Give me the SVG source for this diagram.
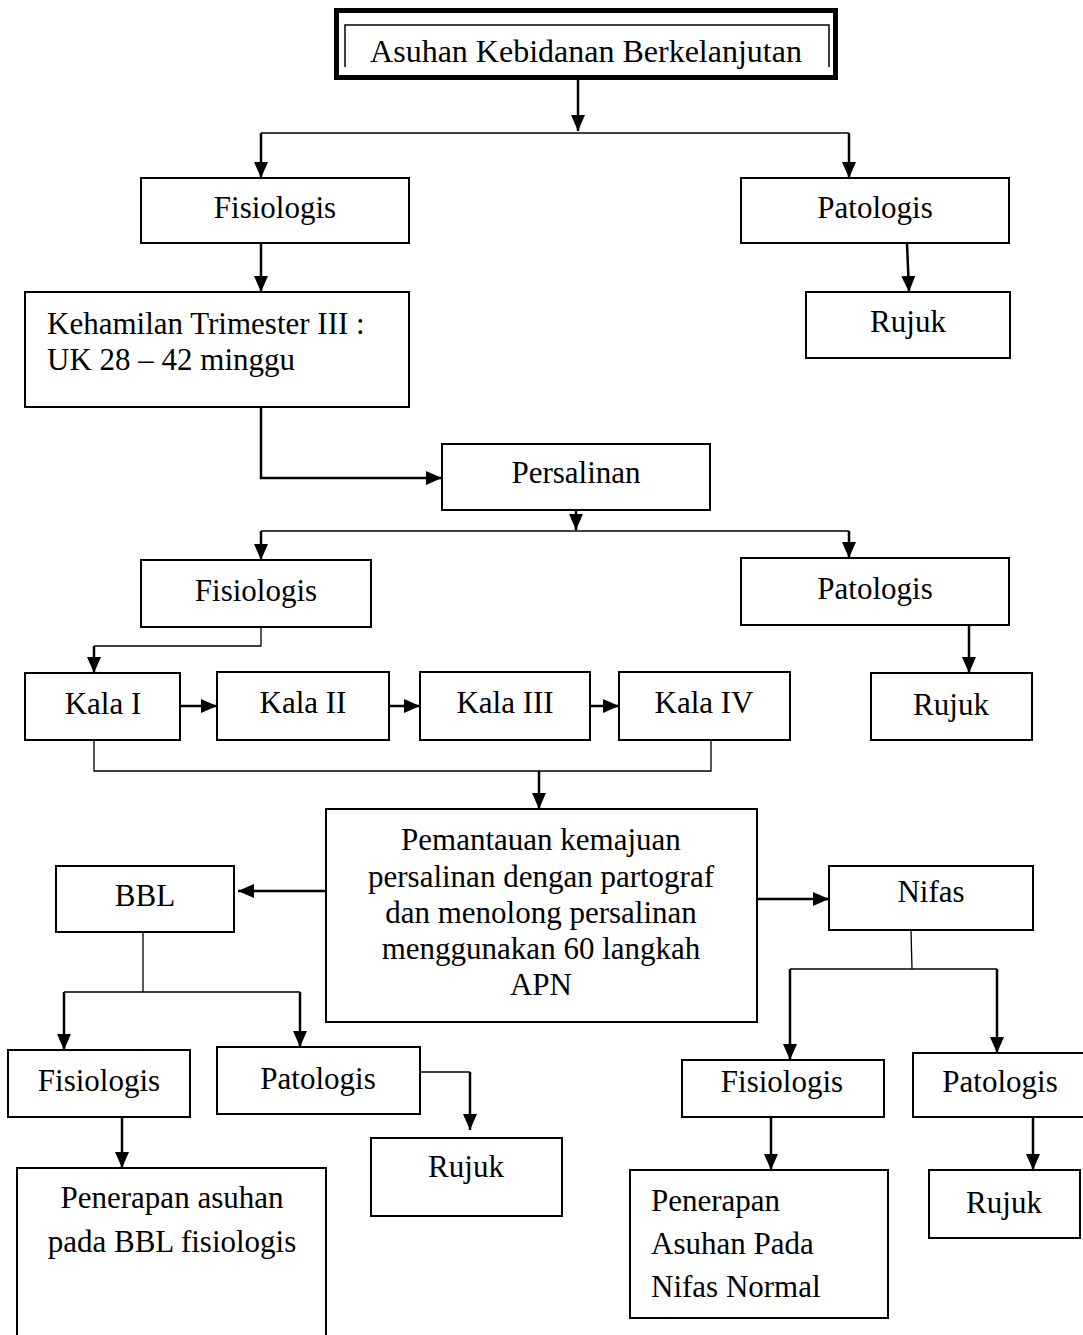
<svg xmlns="http://www.w3.org/2000/svg" width="1083" height="1335" viewBox="0 0 1083 1335">
<style>
.box{fill:#fff;stroke:#000;stroke-width:2}
.t{font-family:"Liberation Serif","Times New Roman",serif;font-size:31px;fill:#000}
.c{text-anchor:middle}
.ln{fill:none;stroke:#000;stroke-width:2.5}
.thin{fill:none;stroke:#000;stroke-width:1.3}
</style>
<defs>
<marker id="ah" markerUnits="userSpaceOnUse" viewBox="0 0 16 14" markerWidth="16" markerHeight="14" refX="16" refY="7" orient="auto">
<path d="M0,0 L16,7 L0,14 z" fill="#000"/>
</marker>
</defs>
<rect width="1083" height="1335" fill="#fff"/>

<g id="connectors">
<line class="ln" x1="578" y1="80" x2="578" y2="131" marker-end="url(#ah)"/>
<polyline class="thin" points="261,133 849,133"/>
<line class="ln" x1="261" y1="133" x2="261" y2="178" marker-end="url(#ah)"/>
<line class="ln" x1="849" y1="133" x2="849" y2="178" marker-end="url(#ah)"/>
<line class="ln" x1="261" y1="243" x2="261" y2="292" marker-end="url(#ah)"/>
<line class="ln" x1="907" y1="243" x2="909" y2="292" marker-end="url(#ah)"/>
<polyline class="ln" points="261,407 261,478 442,478" marker-end="url(#ah)"/>
<line class="ln" x1="576" y1="510" x2="576" y2="530" marker-end="url(#ah)"/>
<polyline class="thin" points="261,531 849,531"/>
<line class="ln" x1="261" y1="531" x2="261" y2="560" marker-end="url(#ah)"/>
<line class="ln" x1="849" y1="531" x2="849" y2="558" marker-end="url(#ah)"/>
<polyline class="thin" points="261,627 261,646 94,646"/>
<line class="ln" x1="94" y1="646" x2="94" y2="673" marker-end="url(#ah)"/>
<line class="ln" x1="969" y1="625" x2="969" y2="673" marker-end="url(#ah)"/>
<line class="ln" x1="180" y1="706" x2="217" y2="706" marker-end="url(#ah)"/>
<line class="ln" x1="389" y1="706" x2="420" y2="706" marker-end="url(#ah)"/>
<line class="ln" x1="590" y1="706" x2="619" y2="706" marker-end="url(#ah)"/>
<polyline class="thin" points="94,740 94,771 711,771 711,740"/>
<line class="ln" x1="539" y1="771" x2="539" y2="809" marker-end="url(#ah)"/>
<line class="ln" x1="326" y1="891" x2="238" y2="891" marker-end="url(#ah)"/>
<line class="ln" x1="757" y1="899" x2="829" y2="899" marker-end="url(#ah)"/>
<polyline class="thin" points="143,932 143,992"/>
<polyline class="thin" points="64,992 300,992"/>
<line class="ln" x1="64" y1="992" x2="64" y2="1050" marker-end="url(#ah)"/>
<line class="ln" x1="300" y1="992" x2="300" y2="1047" marker-end="url(#ah)"/>
<line class="ln" x1="122" y1="1117" x2="122" y2="1168" marker-end="url(#ah)"/>
<polyline class="thin" points="420,1072 470,1072"/>
<line class="ln" x1="470" y1="1072" x2="470" y2="1130" marker-end="url(#ah)"/>
<polyline class="thin" points="911,930 912,969"/>
<polyline class="thin" points="790,969 997,969"/>
<line class="ln" x1="790" y1="969" x2="790" y2="1060" marker-end="url(#ah)"/>
<line class="ln" x1="997" y1="969" x2="997" y2="1053" marker-end="url(#ah)"/>
<line class="ln" x1="771" y1="1117" x2="771" y2="1170" marker-end="url(#ah)"/>
<line class="ln" x1="1033" y1="1117" x2="1033" y2="1170" marker-end="url(#ah)"/>
</g>

<g id="n-title">
<rect x="336.5" y="10.5" width="499" height="67" fill="#fff" stroke="#000" stroke-width="5"/>
<polyline points="345,67 345,25 829,25 829,67" fill="none" stroke="#000" stroke-width="1.5"/>
<text class="t c" x="586" y="62" style="font-size:32px">Asuhan Kebidanan Berkelanjutan</text>
</g>
<g id="n-fis1"><rect class="box" x="141" y="178" width="268" height="65"/><text class="t c" x="275" y="218">Fisiologis</text></g>
<g id="n-pat1"><rect class="box" x="741" y="178" width="268" height="65"/><text class="t c" x="875" y="218">Patologis</text></g>
<g id="n-hamil"><rect class="box" x="25" y="292" width="384" height="115"/><text class="t" x="47" y="334">Kehamilan Trimester III :</text><text class="t" x="47" y="370">UK 28 – 42 minggu</text></g>
<g id="n-rujuk1"><rect class="box" x="806" y="292" width="204" height="66"/><text class="t c" x="908" y="332">Rujuk</text></g>
<g id="n-persalinan"><rect class="box" x="442" y="444" width="268" height="66"/><text class="t c" x="576" y="483">Persalinan</text></g>
<g id="n-fis2"><rect class="box" x="141" y="560" width="230" height="67"/><text class="t c" x="256" y="601">Fisiologis</text></g>
<g id="n-pat2"><rect class="box" x="741" y="558" width="268" height="67"/><text class="t c" x="875" y="599">Patologis</text></g>
<g id="n-kala1"><rect class="box" x="25" y="673" width="155" height="67"/><text class="t c" x="103" y="714">Kala I</text></g>
<g id="n-kala2"><rect class="box" x="217" y="672" width="172" height="68"/><text class="t c" x="303" y="713">Kala II</text></g>
<g id="n-kala3"><rect class="box" x="420" y="672" width="170" height="68"/><text class="t c" x="505" y="713">Kala III</text></g>
<g id="n-kala4"><rect class="box" x="619" y="672" width="171" height="68"/><text class="t c" x="704" y="713">Kala IV</text></g>
<g id="n-rujuk2"><rect class="box" x="871" y="673" width="161" height="67"/><text class="t c" x="951" y="715">Rujuk</text></g>
<g id="n-pemantauan"><rect class="box" x="326" y="809" width="431" height="213"/>
<text class="t c" x="541" y="850">Pemantauan kemajuan</text>
<text class="t c" x="541" y="887">persalinan dengan partograf</text>
<text class="t c" x="541" y="923">dan menolong persalinan</text>
<text class="t c" x="541" y="959">menggunakan 60 langkah</text>
<text class="t c" x="541" y="995">APN</text></g>
<g id="n-bbl"><rect class="box" x="56" y="866" width="178" height="66"/><text class="t c" x="145" y="906">BBL</text></g>
<g id="n-nifas"><rect class="box" x="829" y="866" width="204" height="64"/><text class="t c" x="931" y="902">Nifas</text></g>
<g id="n-fis3"><rect class="box" x="8" y="1050" width="182" height="67"/><text class="t c" x="99" y="1091">Fisiologis</text></g>
<g id="n-pat3"><rect class="box" x="217" y="1047" width="203" height="67"/><text class="t c" x="318" y="1089">Patologis</text></g>
<g id="n-rujuk3"><rect class="box" x="371" y="1138" width="191" height="78"/><text class="t c" x="466" y="1177">Rujuk</text></g>
<g id="n-penbbl"><path class="box" d="M17,1340 L17,1168 L326,1168 L326,1340"/><text class="t c" x="172" y="1208">Penerapan asuhan</text><text class="t c" x="172" y="1252">pada BBL fisiologis</text></g>
<g id="n-fis4"><rect class="box" x="682" y="1060" width="202" height="57"/><text class="t c" x="782" y="1092">Fisiologis</text></g>
<g id="n-pat4"><rect class="box" x="913" y="1053" width="175" height="64"/><text class="t c" x="1000" y="1092">Patologis</text></g>
<g id="n-pennifas"><rect class="box" x="630" y="1170" width="258" height="148"/><text class="t" x="651" y="1211">Penerapan</text><text class="t" x="651" y="1254">Asuhan Pada</text><text class="t" x="651" y="1297">Nifas Normal</text></g>
<g id="n-rujuk4"><rect class="box" x="929" y="1170" width="151" height="68"/><text class="t c" x="1004" y="1213">Rujuk</text></g>
</svg>
